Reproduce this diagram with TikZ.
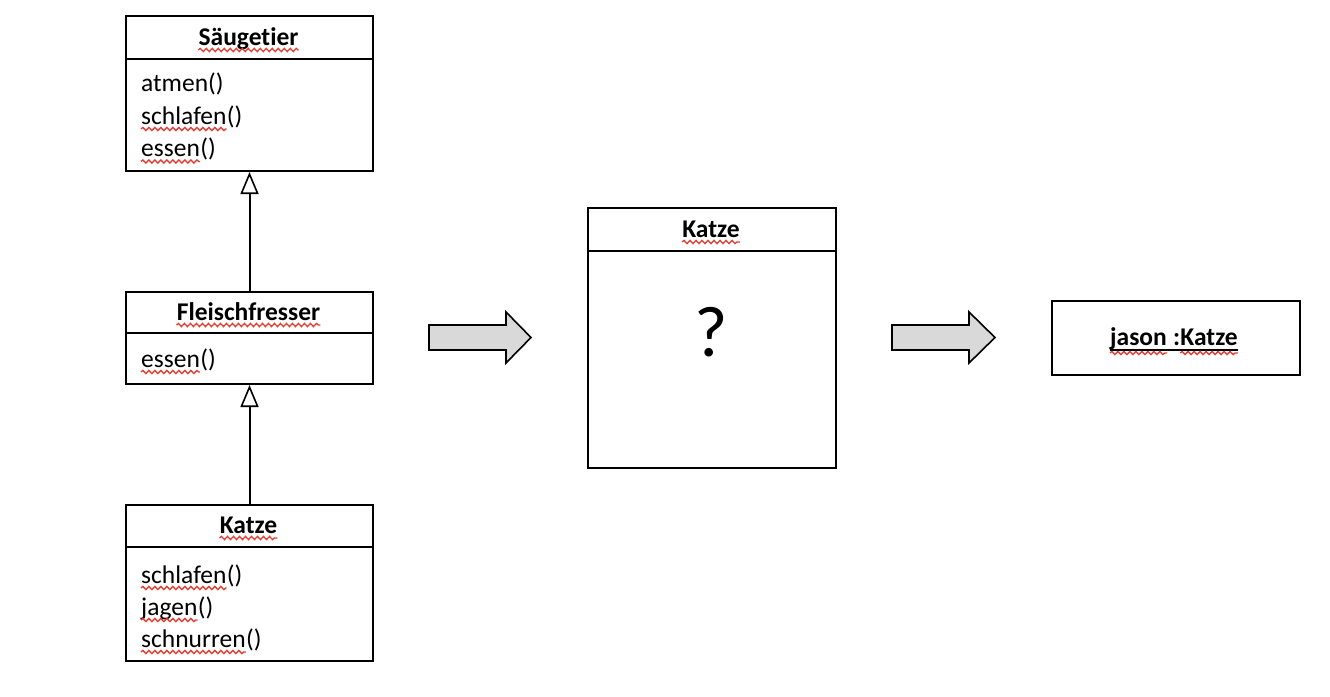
\documentclass[tikz,border=0pt]{standalone}
\usepackage{fontspec}
\setmainfont{Carlito}[Ligatures=NoCommon]
\usetikzlibrary{arrows.meta,decorations.pathmorphing}
\definecolor{sqred}{RGB}{228,58,48}
\definecolor{arrgray}{RGB}{217,217,217}
\begin{document}
\begin{tikzpicture}[x=1pt,y=-1pt,
  umlbox/.style={draw=black,line width=2pt,inner sep=0pt,anchor=north west},
  sepline/.style={line width=2pt},
  ttl/.style={font=\fontsize{25.5}{31}\selectfont\bfseries,inner sep=0pt,anchor=base},
  ttlw/.style={font=\fontsize{25.5}{31}\selectfont\bfseries,inner sep=0pt,anchor=base west},
  meth/.style={font=\fontsize{25.5}{31}\selectfont,inner sep=0pt,anchor=base west},
  squig/.style={draw=sqred,line width=1.3pt,decorate,decoration={snake,amplitude=1.6pt,segment length=6pt}},
  inherit/.style={line width=2pt,-{Triangle[open,length=22pt,width=18pt,fill=white,line width=1.6pt]}},
  blockarrow/.style={draw=black,line width=1.6pt,fill=arrgray,line join=miter}]
\useasboundingbox (0,0) rectangle (1330,696);
\fill[white] (0,0) rectangle (1330,696);

% Säugetier
\node[umlbox,minimum width=247pt,minimum height=155pt] (sa) at (125,15) {};
\draw[sepline] ([yshift=-44pt]sa.north west) -- ([yshift=-44pt]sa.north east);
\node[ttl] (saT) at (248.5,45) {Säugetier};
\node[meth] (sa1) at (141,91.5) {atmen()};
\node[meth] (sa2) at (141,124) {schlafen};
\node[meth] (sa2p) at (sa2.base east) {()};
\node[meth] (sa3) at (141,156.5) {essen};
\node[meth] (sa3p) at (sa3.base east) {()};
\draw[squig] ([yshift=-5pt]saT.base west) -- ([yshift=-5pt]saT.base east);
\draw[squig] ([yshift=-5pt]sa2.base west) -- ([yshift=-5pt]sa2.base east);
\draw[squig] ([yshift=-5pt]sa3.base west) -- ([yshift=-5pt]sa3.base east);

% Fleischfresser
\node[umlbox,minimum width=247pt,minimum height=92pt] (fl) at (125,291) {};
\draw[sepline] ([yshift=-42pt]fl.north west) -- ([yshift=-42pt]fl.north east);
\node[ttl] (flT) at (248.5,320) {Fleischfresser};
\node[meth] (fl1) at (141,367) {essen};
\node[meth] (fl1p) at (fl1.base east) {()};
\draw[squig] ([yshift=-5pt]flT.base west) -- ([yshift=-5pt]flT.base east);
\draw[squig] ([yshift=-5pt]fl1.base west) -- ([yshift=-5pt]fl1.base east);

% Katze (links)
\node[umlbox,minimum width=247pt,minimum height=156pt] (ka) at (125,504) {};
\draw[sepline] ([yshift=-43pt]ka.north west) -- ([yshift=-43pt]ka.north east);
\node[ttl] (kaT) at (248.5,533) {Katze};
\node[meth] (ka1) at (141,583) {schlafen};
\node[meth] (ka1p) at (ka1.base east) {()};
\node[meth] (ka2) at (141,615) {jagen};
\node[meth] (ka2p) at (ka2.base east) {()};
\node[meth] (ka3) at (141,647) {schnurren};
\node[meth] (ka3p) at (ka3.base east) {()};
\draw[squig] ([yshift=-5pt]kaT.base west) -- ([yshift=-5pt]kaT.base east);
\draw[squig] ([yshift=-5pt]ka1.base west) -- ([yshift=-5pt]ka1.base east);
\draw[squig] ([yshift=-5pt]ka2.base west) -- ([yshift=-5pt]ka2.base east);
\draw[squig] ([yshift=-5pt]ka3.base west) -- ([yshift=-5pt]ka3.base east);

% Vererbung
\draw[inherit] (fl.north) -- (sa.south);
\draw[inherit] (ka.north) -- (fl.south);

% Blockpfeile
\draw[blockarrow] (429,325) -- (506,325) -- (506,312) -- (531,337.5) -- (506,363) -- (506,350) -- (429,350) -- cycle;
\draw[blockarrow] (892,325) -- (969,325) -- (969,312) -- (995,337.5) -- (969,363) -- (969,350) -- (892,350) -- cycle;

% Katze (Mitte)
\node[umlbox,minimum width=248pt,minimum height=260pt] (km) at (587,207) {};
\draw[sepline] ([yshift=-44pt]km.north west) -- ([yshift=-44pt]km.north east);
\node[ttl] (kmT) at (711,237) {Katze};
\draw[squig] ([yshift=-5pt]kmT.base west) -- ([yshift=-5pt]kmT.base east);
\node[inner sep=0pt,anchor=base,font=\fontsize{72}{80}\selectfont] (kmQ) at (711,356) {?};

% Objekt
\node[umlbox,minimum width=248pt,minimum height=74pt] (ob) at (1051,300) {};
\node[ttlw] (obJ) at (1110,345) {jason};
\node[ttlw] (obS) at (obJ.base east) {\ :};
\node[ttlw] (obK) at (obS.base east) {Katze};
\draw[line width=1.8pt] ([yshift=-5pt]obJ.base west) -- ([yshift=-5pt]obK.base east);
\draw[squig] ([yshift=-8pt]obJ.base west) -- ([yshift=-8pt]obJ.base east);
\draw[squig] ([yshift=-8pt]obK.base west) -- ([yshift=-8pt]obK.base east);
\end{tikzpicture}
\end{document}
